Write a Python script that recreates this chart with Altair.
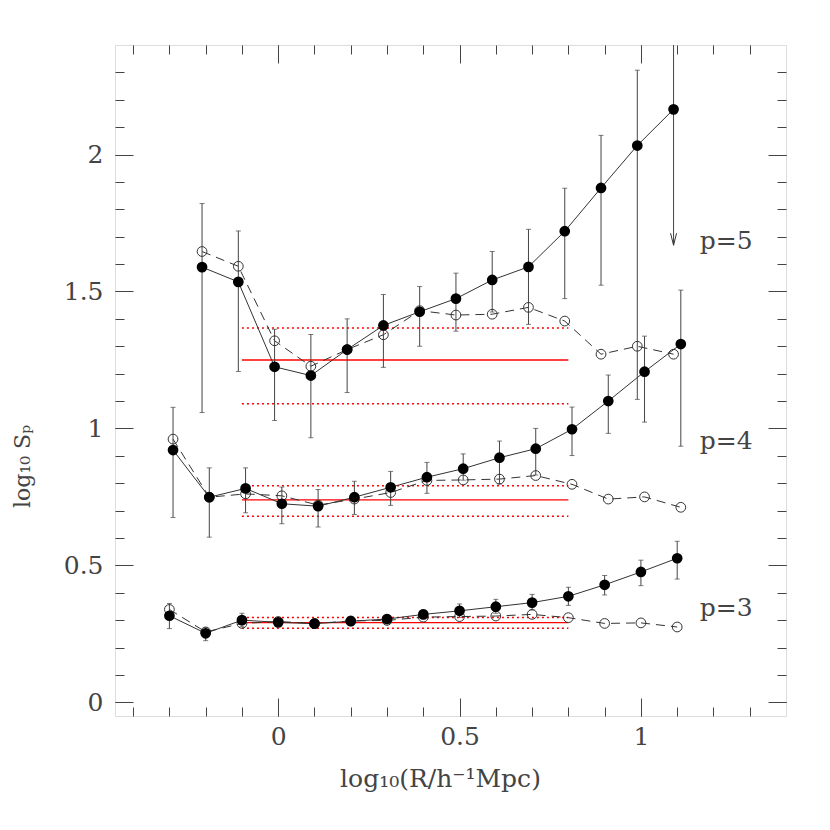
import altair as alt
import pandas as pd

# ---------------- data ----------------
# p = 5
p5_x = [-0.21, -0.11, -0.01, 0.09, 0.19, 0.29, 0.39, 0.49, 0.59, 0.69, 0.79, 0.89, 0.99, 1.09]
p5_y = [1.589, 1.535, 1.225, 1.193, 1.288, 1.376, 1.426, 1.474, 1.542, 1.590, 1.720, 1.878, 2.033, 2.165]
p5_lo = [1.058, 1.208, 1.029, 0.966, 1.131, 1.223, 1.300, 1.355, 1.425, 1.380, 1.474, 1.523, 1.106, 1.669]
p5_hi = [1.821, 1.721, 1.362, 1.343, 1.400, 1.489, 1.518, 1.567, 1.646, 1.727, 1.877, 2.070, 2.308, 2.600]
p5_arrow = [0, 0, 0, 0, 0, 0, 0, 0, 0, 0, 0, 0, 0, 1]
p5_open = [1.646, 1.592, 1.320, 1.227, 1.288, 1.342, 1.430, 1.414, 1.417, 1.442, 1.392, 1.271, 1.300, 1.271]

# p = 4
p4_x = [-0.29, -0.19, -0.09, 0.01, 0.11, 0.21, 0.31, 0.41, 0.51, 0.61, 0.71, 0.81, 0.91, 1.01, 1.11]
p4_y = [0.921, 0.749, 0.781, 0.725, 0.716, 0.749, 0.785, 0.822, 0.853, 0.893, 0.926, 0.997, 1.100, 1.207, 1.308]
p4_lo = [0.675, 0.603, 0.692, 0.652, 0.640, 0.686, 0.719, 0.763, 0.811, 0.797, 0.830, 0.901, 0.982, 1.023, 0.935]
p4_hi = [1.077, 0.856, 0.856, 0.786, 0.777, 0.807, 0.843, 0.876, 0.907, 0.954, 1.000, 1.078, 1.195, 1.337, 1.505]
p4_arrow = [0, 0, 0, 0, 0, 0, 0, 0, 0, 0, 0, 0, 0, 0, 0]
p4_open = [0.961, 0.749, 0.761, 0.754, 0.720, 0.742, 0.766, 0.810, 0.812, 0.815, 0.828, 0.796, 0.742, 0.750, 0.712]

# p = 3
p3_x = [-0.30, -0.20, -0.10, 0.00, 0.10, 0.20, 0.30, 0.40, 0.50, 0.60, 0.70, 0.80, 0.90, 1.00, 1.10]
p3_y = [0.316, 0.252, 0.300, 0.292, 0.287, 0.296, 0.304, 0.321, 0.334, 0.349, 0.364, 0.387, 0.429, 0.476, 0.526]
p3_lo = [0.269, 0.225, 0.276, 0.277, 0.274, 0.283, 0.290, 0.305, 0.310, 0.325, 0.337, 0.354, 0.392, 0.426, 0.450]
p3_hi = [0.361, 0.272, 0.325, 0.307, 0.300, 0.309, 0.318, 0.337, 0.359, 0.376, 0.394, 0.420, 0.463, 0.519, 0.588]
p3_arrow = [0, 0, 0, 0, 0, 0, 0, 0, 0, 0, 0, 0, 0, 0, 0]
p3_open = [0.339, 0.257, 0.288, 0.295, 0.288, 0.297, 0.299, 0.311, 0.313, 0.315, 0.321, 0.309, 0.288, 0.290, 0.275]

# red reference bands (mean and +/- range) over -0.1 .. 0.8
band_p = ["p=5", "p=4", "p=3"]
band_start = [-0.1, -0.1, -0.1]
band_end = [0.8, 0.8, 0.8]
band_mid = [1.250, 0.739, 0.291]
band_lo = [1.090, 0.679, 0.270]
band_hi = [1.367, 0.791, 0.310]

# series labels
lab_text = ["p=5", "p=4", "p=3"]
lab_x = [1.235, 1.235, 1.235]
lab_y = [1.683, 0.955, 0.345]

# axis ticks
x_major = [0, 0.5, 1]
x_minor = [-0.4, -0.3, -0.2, -0.1, 0, 0.1, 0.2, 0.3, 0.4, 0.5, 0.6, 0.7, 0.8, 0.9, 1.0, 1.1, 1.2, 1.3]
y_major = [0, 0.5, 1, 1.5, 2]
y_minor = [0, 0.1, 0.2, 0.3, 0.4, 0.5, 0.6, 0.7, 0.8, 0.9, 1.0, 1.1, 1.2, 1.3, 1.4, 1.5,
           1.6, 1.7, 1.8, 1.9, 2.0, 2.1, 2.2, 2.3]

# ---------------- tables ----------------
def table(p, xs, ys, lo, hi, op, arrow):
    return pd.DataFrame({"p": p, "x": xs, "y": ys, "lo": lo, "hi": hi, "yo": op, "arrow": arrow})

df = pd.concat([
    table("p=5", p5_x, p5_y, p5_lo, p5_hi, p5_open, p5_arrow),
    table("p=4", p4_x, p4_y, p4_lo, p4_hi, p4_open, p4_arrow),
    table("p=3", p3_x, p3_y, p3_lo, p3_hi, p3_open, p3_arrow),
], ignore_index=True)

bands = pd.DataFrame({"p": band_p, "x0": band_start, "x1": band_end,
                      "mid": band_mid, "lo": band_lo, "hi": band_hi})
labels = pd.DataFrame({"t": lab_text, "x": lab_x, "y": lab_y})

# ---------------- styling ----------------
FONT = "DejaVu Serif"
TXT = "#444444"
TICK = "#444444"
LINE = "#333333"
MAJ = 18
MIN = 9

xs = alt.Scale(domain=[-0.45, 1.4], nice=False, zero=False)
ys = alt.Scale(domain=[-0.05, 2.4], nice=False, zero=False)


def axis(orient, values, size, labels=False, title=None, **kw):
    return alt.Axis(orient=orient, values=values, tickSize=size, offset=-size,
                    domain=False, grid=False, ticks=True, tickColor=TICK, tickWidth=1,
                    labels=labels, title=title, **kw)


lab_kw = dict(labelFont=FONT, labelFontSize=25, labelColor=TXT, labelExpr="datum.value + ''")
ttl_kw = dict(titleFont=FONT, titleFontWeight="normal", titleColor=TXT)

ax_bottom_major = axis("bottom", x_major, MAJ, labels=True, title="log₁₀(R/h⁻¹Mpc)",
                       labelPadding=8, titleX=325, titleY=80, titleBaseline="middle",
                       titleAlign="center", titleAnchor="middle", titleFontSize=25,
                       **lab_kw, **ttl_kw)
ax_bottom_minor = axis("bottom", x_minor, MIN)
ax_top_major = axis("top", x_major, MAJ)
ax_top_minor = axis("top", x_minor, MIN)

ax_left_major = axis("left", y_major, MAJ, labels=True, title="log₁₀ Sₚ",
                     labelPadding=12, titleX=-111, titleY=421, titleAngle=-90,
                     titleBaseline="middle", titleAlign="center", titleFontSize=22,
                     **lab_kw, **ttl_kw)
ax_left_minor = axis("left", y_minor, MIN)
ax_right_major = axis("right", y_major, MAJ)
ax_right_minor = axis("right", y_minor, MIN)


def X(field, ax=None):
    return alt.X(field, type="quantitative", scale=xs, axis=ax)


def Y(field, ax=None):
    return alt.Y(field, type="quantitative", scale=ys, axis=ax)


band_base = alt.Chart(bands)
red_mid = band_base.mark_rule(color="#ff0000", strokeWidth=1.4).encode(
    x=X("x0", ax_bottom_major), x2="x1", y=Y("mid", ax_left_major))
red_hi = band_base.mark_rule(color="#ff0000", strokeWidth=1.5, strokeDash=[2, 3]).encode(
    x=X("x0", ax_bottom_minor), x2="x1", y=Y("hi", ax_left_minor))
red_lo = band_base.mark_rule(color="#ff0000", strokeWidth=1.5, strokeDash=[2, 3]).encode(
    x=X("x0", ax_top_major), x2="x1", y=Y("lo", ax_right_major))

base = alt.Chart(df)
open_line = base.mark_line(color=LINE, strokeWidth=1, strokeDash=[9, 6], clip=True).encode(
    x=X("x", ax_top_minor), y=Y("yo", ax_right_minor), detail="p:N")
filled_line = base.mark_line(color=LINE, strokeWidth=1, clip=True).encode(
    x=X("x"), y=Y("y"), detail="p:N")
err = base.mark_rule(color="#444444", strokeWidth=1, clip=True).encode(
    x=X("x"), y=Y("lo"), y2="hi")
cap_hi = base.transform_filter(alt.datum.arrow == 0).mark_tick(
    orient="horizontal", size=5, thickness=1, color="#444444", clip=True).encode(
    x=X("x"), y=Y("hi"))
cap_lo = base.transform_filter(alt.datum.arrow == 0).mark_tick(
    orient="horizontal", size=5, thickness=1, color="#444444", clip=True).encode(
    x=X("x"), y=Y("lo"))
arrow = base.transform_filter(alt.datum.arrow == 1).mark_point(
    shape="M-0.75,-3L0,0L0.75,-3", filled=False, size=64, strokeWidth=1,
    color=LINE, opacity=1).encode(x=X("x"), y=Y("lo"))
open_pts = base.mark_point(shape="circle", filled=False, size=95, strokeWidth=1,
                           color=LINE, opacity=1, clip=True).encode(x=X("x"), y=Y("yo"))
filled_pts = base.mark_circle(size=115, color="#000000", opacity=1, clip=True).encode(
    x=X("x"), y=Y("y"))
texts = alt.Chart(labels).mark_text(font=FONT, fontSize=25, color=TXT, align="center",
                                    baseline="middle").encode(
    x=X("x"), y=Y("y"), text="t:N")

chart = alt.layer(
    red_mid, red_hi, red_lo, open_line, filled_line, err, cap_hi, cap_lo, arrow,
    open_pts, filled_pts, texts
).resolve_axis(x="independent", y="independent").properties(
    width=671, height=671,
    autosize=alt.AutoSizeParams(type="none"),
    padding={"left": 107, "top": 37, "right": 30, "bottom": 100},
).configure_view(stroke="#444444", strokeWidth=1.2).configure(background="white")

chart.save("out.html", embed_options={"renderer": "svg", "actions": False})
